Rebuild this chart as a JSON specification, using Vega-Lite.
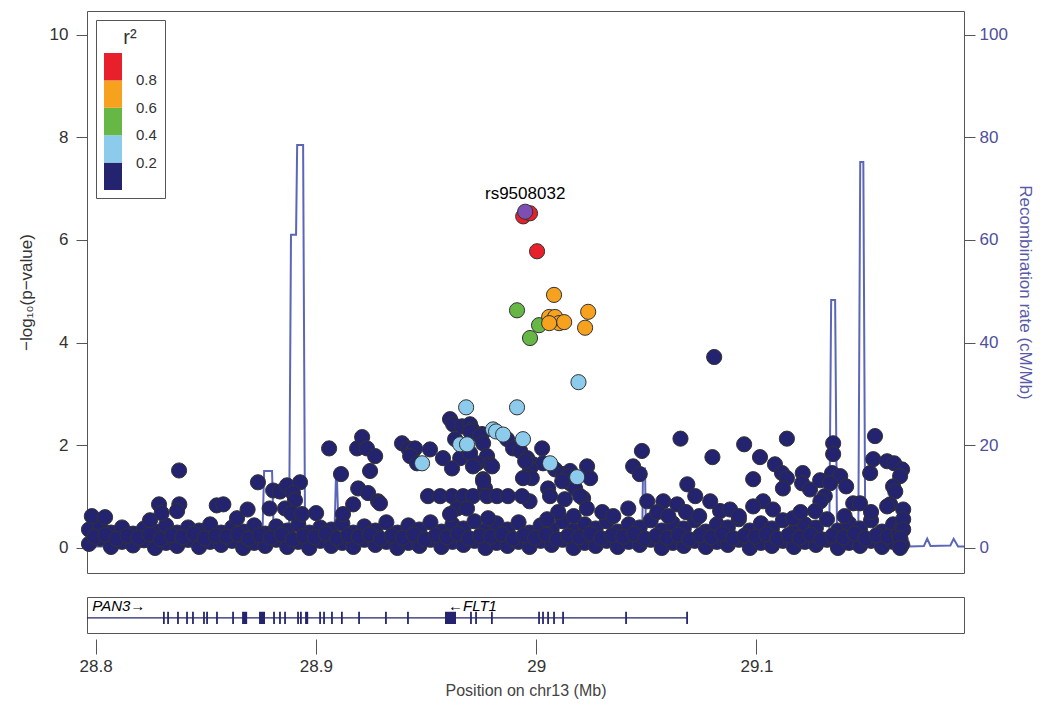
{
 "$schema": "https://vega.github.io/schema/vega-lite/v6.json",
 "background": "white",
 "padding": {"left": 16, "top": 10, "right": 5, "bottom": 5},
 "bounds": "flush",
 "spacing": 24,
 "config": {
  "font": "Liberation Sans",
  "view": {"stroke": "#555", "strokeWidth": 1},
  "axis": {"grid": false, "domain": false, "tickColor": "#555", "labelFontSize": 17, "titleFontSize": 17, "titleFontWeight": "normal", "labelColor": "#333", "titleColor": "#333"}
 },
 "datasets": {
  "navy": [
   {"pos":28.797,"logp":0.08},{"pos":28.797,"logp":0.36},{"pos":28.802,"logp":0.18},{"pos":28.802,"logp":0.42},{"pos":28.807,"logp":0.02},{"pos":28.807,"logp":0.30},{"pos":28.812,"logp":0.12},{"pos":28.812,"logp":0.40},{"pos":28.817,"logp":0.05},{"pos":28.817,"logp":0.28},{"pos":28.822,"logp":0.15},{"pos":28.822,"logp":0.38},{"pos":28.827,"logp":0.0},{"pos":28.827,"logp":0.32},{"pos":28.832,"logp":0.10},{"pos":28.832,"logp":0.44},{"pos":28.837,"logp":0.04},{"pos":28.837,"logp":0.30},{"pos":28.842,"logp":0.16},{"pos":28.842,"logp":0.40},{"pos":28.847,"logp":0.02},{"pos":28.847,"logp":0.34},{"pos":28.852,"logp":0.12},{"pos":28.852,"logp":0.46},{"pos":28.857,"logp":0.06},{"pos":28.857,"logp":0.30},{"pos":28.862,"logp":0.14},{"pos":28.862,"logp":0.40},{"pos":28.867,"logp":0.0},{"pos":28.867,"logp":0.32},{"pos":28.872,"logp":0.10},{"pos":28.872,"logp":0.44},{"pos":28.877,"logp":0.04},{"pos":28.877,"logp":0.28},{"pos":28.882,"logp":0.16},{"pos":28.882,"logp":0.42},{"pos":28.887,"logp":0.02},{"pos":28.887,"logp":0.34},{"pos":28.892,"logp":0.12},{"pos":28.892,"logp":0.46},{"pos":28.897,"logp":0.0},{"pos":28.897,"logp":0.30},{"pos":28.902,"logp":0.14},{"pos":28.902,"logp":0.40},{"pos":28.907,"logp":0.04},{"pos":28.907,"logp":0.36},{"pos":28.912,"logp":0.10},{"pos":28.912,"logp":0.48},{"pos":28.917,"logp":0.02},{"pos":28.917,"logp":0.30},{"pos":28.922,"logp":0.16},{"pos":28.922,"logp":0.42},{"pos":28.927,"logp":0.06},{"pos":28.927,"logp":0.34},{"pos":28.932,"logp":0.12},{"pos":28.932,"logp":0.50},{"pos":28.937,"logp":0.0},{"pos":28.937,"logp":0.30},{"pos":28.942,"logp":0.10},{"pos":28.942,"logp":0.44},{"pos":28.947,"logp":0.04},{"pos":28.947,"logp":0.36},{"pos":28.952,"logp":0.16},{"pos":28.952,"logp":0.50},{"pos":28.957,"logp":0.02},{"pos":28.957,"logp":0.32},{"pos":28.962,"logp":0.12},{"pos":28.962,"logp":0.46},{"pos":28.967,"logp":0.06},{"pos":28.967,"logp":0.38},{"pos":28.972,"logp":0.14},{"pos":28.972,"logp":0.52},{"pos":28.977,"logp":0.0},{"pos":28.977,"logp":0.34},{"pos":28.982,"logp":0.10},{"pos":28.982,"logp":0.48},{"pos":28.987,"logp":0.04},{"pos":28.987,"logp":0.36},{"pos":28.992,"logp":0.12},{"pos":28.992,"logp":0.50},{"pos":28.997,"logp":0.02},{"pos":28.997,"logp":0.30},{"pos":29.002,"logp":0.14},{"pos":29.002,"logp":0.44},{"pos":29.007,"logp":0.06},{"pos":29.007,"logp":0.36},{"pos":29.012,"logp":0.16},{"pos":29.012,"logp":0.52},{"pos":29.017,"logp":0.0},{"pos":29.017,"logp":0.34},{"pos":29.022,"logp":0.10},{"pos":29.022,"logp":0.46},{"pos":29.027,"logp":0.04},{"pos":29.027,"logp":0.38},{"pos":29.032,"logp":0.14},{"pos":29.032,"logp":0.52},{"pos":29.037,"logp":0.02},{"pos":29.037,"logp":0.32},{"pos":29.042,"logp":0.12},{"pos":29.042,"logp":0.46},{"pos":29.047,"logp":0.06},{"pos":29.047,"logp":0.40},{"pos":29.052,"logp":0.16},{"pos":29.052,"logp":0.54},{"pos":29.057,"logp":0.0},{"pos":29.057,"logp":0.34},{"pos":29.062,"logp":0.10},{"pos":29.062,"logp":0.48},{"pos":29.067,"logp":0.04},{"pos":29.067,"logp":0.38},{"pos":29.072,"logp":0.14},{"pos":29.072,"logp":0.54},{"pos":29.077,"logp":0.02},{"pos":29.077,"logp":0.32},{"pos":29.082,"logp":0.12},{"pos":29.082,"logp":0.46},{"pos":29.087,"logp":0.06},{"pos":29.087,"logp":0.40},{"pos":29.092,"logp":0.16},{"pos":29.092,"logp":0.56},{"pos":29.097,"logp":0.0},{"pos":29.097,"logp":0.34},{"pos":29.102,"logp":0.10},{"pos":29.102,"logp":0.48},{"pos":29.107,"logp":0.04},{"pos":29.107,"logp":0.38},{"pos":29.112,"logp":0.14},{"pos":29.112,"logp":0.54},{"pos":29.117,"logp":0.02},{"pos":29.117,"logp":0.32},{"pos":29.122,"logp":0.12},{"pos":29.122,"logp":0.46},{"pos":29.127,"logp":0.06},{"pos":29.127,"logp":0.40},{"pos":29.132,"logp":0.16},{"pos":29.132,"logp":0.56},{"pos":29.137,"logp":0.0},{"pos":29.137,"logp":0.34},{"pos":29.142,"logp":0.10},{"pos":29.142,"logp":0.48},{"pos":29.147,"logp":0.04},{"pos":29.147,"logp":0.38},{"pos":29.152,"logp":0.14},{"pos":29.152,"logp":0.54},{"pos":29.157,"logp":0.02},{"pos":29.157,"logp":0.32},{"pos":29.162,"logp":0.12},{"pos":29.162,"logp":0.46},{"pos":29.166,"logp":0.06},{"pos":29.166,"logp":0.40},
   {"pos":28.7995,"logp":0.22},{"pos":28.8045,"logp":0.26},{"pos":28.8095,"logp":0.18},{"pos":28.8145,"logp":0.24},{"pos":28.8195,"logp":0.20},{"pos":28.8245,"logp":0.27},{"pos":28.8295,"logp":0.17},{"pos":28.8345,"logp":0.25},{"pos":28.8395,"logp":0.21},{"pos":28.8445,"logp":0.28},{"pos":28.8495,"logp":0.19},{"pos":28.8545,"logp":0.24},{"pos":28.8595,"logp":0.22},{"pos":28.8645,"logp":0.27},{"pos":28.8695,"logp":0.18},{"pos":28.8745,"logp":0.25},{"pos":28.8795,"logp":0.20},{"pos":28.8845,"logp":0.26},{"pos":28.8895,"logp":0.17},{"pos":28.8945,"logp":0.24},{"pos":28.8995,"logp":0.21},{"pos":28.9045,"logp":0.28},{"pos":28.9095,"logp":0.19},{"pos":28.9145,"logp":0.25},{"pos":28.9195,"logp":0.22},{"pos":28.9245,"logp":0.27},{"pos":28.9295,"logp":0.18},{"pos":28.9345,"logp":0.24},{"pos":28.9395,"logp":0.20},{"pos":28.9445,"logp":0.26},{"pos":28.9495,"logp":0.17},{"pos":28.9545,"logp":0.25},{"pos":28.9595,"logp":0.21},{"pos":28.9645,"logp":0.28},{"pos":28.9695,"logp":0.19},{"pos":28.9745,"logp":0.24},{"pos":28.9795,"logp":0.22},{"pos":28.9845,"logp":0.27},{"pos":28.9895,"logp":0.18},{"pos":28.9945,"logp":0.25},{"pos":28.9995,"logp":0.20},{"pos":29.0045,"logp":0.26},{"pos":29.0095,"logp":0.17},{"pos":29.0145,"logp":0.24},{"pos":29.0195,"logp":0.21},{"pos":29.0245,"logp":0.28},{"pos":29.0295,"logp":0.19},{"pos":29.0345,"logp":0.25},{"pos":29.0395,"logp":0.22},{"pos":29.0445,"logp":0.27},{"pos":29.0495,"logp":0.18},{"pos":29.0545,"logp":0.24},{"pos":29.0595,"logp":0.20},{"pos":29.0645,"logp":0.26},{"pos":29.0695,"logp":0.17},{"pos":29.0745,"logp":0.25},{"pos":29.0795,"logp":0.21},{"pos":29.0845,"logp":0.28},{"pos":29.0895,"logp":0.19},{"pos":29.0945,"logp":0.24},{"pos":29.0995,"logp":0.22},{"pos":29.1045,"logp":0.27},{"pos":29.1095,"logp":0.18},{"pos":29.1145,"logp":0.25},{"pos":29.1195,"logp":0.20},{"pos":29.1245,"logp":0.26},{"pos":29.1295,"logp":0.17},{"pos":29.1345,"logp":0.24},{"pos":29.1395,"logp":0.21},{"pos":29.1445,"logp":0.28},{"pos":29.1495,"logp":0.19},{"pos":29.1545,"logp":0.25},{"pos":29.1595,"logp":0.22},{"pos":29.1645,"logp":0.27},
   {"pos":28.7983,"logp":0.62},{"pos":28.8043,"logp":0.60},{"pos":28.8247,"logp":0.54},{"pos":28.8288,"logp":0.85},{"pos":28.830,"logp":0.68},{"pos":28.8379,"logp":1.51},{"pos":28.838,"logp":0.85},{"pos":28.837,"logp":0.72},{"pos":28.855,"logp":0.83},{"pos":28.858,"logp":0.85},{"pos":28.8642,"logp":0.58},{"pos":28.869,"logp":0.75},{"pos":28.8737,"logp":1.28},{"pos":28.879,"logp":0.77},{"pos":28.8806,"logp":1.12},{"pos":28.8837,"logp":1.10},{"pos":28.8869,"logp":1.22},{"pos":28.8928,"logp":1.28},{"pos":28.8896,"logp":1.07},{"pos":28.8905,"logp":0.93},{"pos":28.886,"logp":0.77},{"pos":28.8888,"logp":0.68},{"pos":28.8937,"logp":0.66},
   {"pos":28.9001,"logp":0.68},{"pos":28.906,"logp":1.94},{"pos":28.9114,"logp":1.44},{"pos":28.9169,"logp":0.85},{"pos":28.9123,"logp":0.66},{"pos":28.9187,"logp":1.94},{"pos":28.921,"logp":2.16},{"pos":28.9232,"logp":1.94},{"pos":28.9269,"logp":1.79},{"pos":28.9246,"logp":1.50},{"pos":28.9192,"logp":1.16},{"pos":28.9237,"logp":1.07},{"pos":28.9282,"logp":0.91},{"pos":28.9291,"logp":0.87},
   {"pos":28.9391,"logp":2.04},{"pos":28.9419,"logp":1.94},{"pos":28.9441,"logp":1.89},{"pos":28.945,"logp":1.94},{"pos":28.9428,"logp":1.79},{"pos":28.9459,"logp":1.65},{"pos":28.9518,"logp":1.92},{"pos":28.9577,"logp":1.75},
   {"pos":28.9609,"logp":2.51},{"pos":28.9623,"logp":2.41},{"pos":28.9664,"logp":2.37},{"pos":28.970,"logp":2.41},{"pos":28.9709,"logp":2.31},{"pos":28.9754,"logp":2.22},{"pos":28.9632,"logp":2.12},{"pos":28.9700,"logp":2.27},{"pos":28.9745,"logp":2.18},{"pos":28.9759,"logp":2.04},{"pos":28.9777,"logp":1.79},{"pos":28.9732,"logp":1.65},{"pos":28.9655,"logp":1.75},{"pos":28.970,"logp":1.85},{"pos":28.9618,"logp":1.55},{"pos":28.9713,"logp":1.59},{"pos":28.9791,"logp":1.63},{"pos":28.980,"logp":1.59},{"pos":28.9759,"logp":1.34},{"pos":28.9768,"logp":1.16},{"pos":28.9759,"logp":1.30},
   {"pos":28.9868,"logp":2.12},{"pos":28.9895,"logp":1.94},{"pos":28.9927,"logp":1.89},{"pos":28.9959,"logp":1.75},{"pos":28.9986,"logp":1.63},{"pos":29.0027,"logp":1.94},{"pos":29.0031,"logp":1.65},{"pos":29.0086,"logp":1.53},{"pos":29.0122,"logp":1.44},{"pos":29.0154,"logp":1.50},{"pos":29.0231,"logp":1.59},{"pos":29.0245,"logp":1.36},{"pos":29.0154,"logp":1.26},{"pos":29.0177,"logp":1.16},{"pos":29.0213,"logp":0.97},{"pos":29.0054,"logp":1.16},{"pos":29.0063,"logp":1.01},{"pos":29.0145,"logp":1.40},{"pos":29.0118,"logp":1.30},{"pos":28.9972,"logp":1.55},{"pos":28.995,"logp":1.69},{"pos":28.998,"logp":1.36},{"pos":28.994,"logp":1.36},{"pos":29.013,"logp":0.95},{"pos":29.020,"logp":1.01},{"pos":29.023,"logp":0.77},{"pos":28.997,"logp":0.91},{"pos":28.9936,"logp":1.01},
   {"pos":28.9509,"logp":1.01},{"pos":28.9564,"logp":1.01},{"pos":28.9618,"logp":1.01},{"pos":28.9668,"logp":1.01},{"pos":28.9713,"logp":1.01},{"pos":28.9777,"logp":1.01},{"pos":28.9822,"logp":1.01},{"pos":28.9872,"logp":1.01},{"pos":28.9641,"logp":0.77},{"pos":28.9686,"logp":0.77},{"pos":28.9609,"logp":0.66},{"pos":28.9782,"logp":0.58},
   {"pos":29.048,"logp":1.89},{"pos":29.044,"logp":1.59},{"pos":29.047,"logp":1.44},{"pos":29.0655,"logp":2.13},{"pos":29.080,"logp":1.77},{"pos":29.0686,"logp":1.24},{"pos":29.0944,"logp":2.02},{"pos":29.0418,"logp":0.77},{"pos":29.0504,"logp":0.91},{"pos":29.0577,"logp":0.91},{"pos":29.064,"logp":0.85},{"pos":29.0722,"logp":1.01},{"pos":29.079,"logp":0.91},{"pos":29.0835,"logp":0.72},{"pos":29.0808,"logp":3.72},
   {"pos":29.1016,"logp":1.77},{"pos":29.0985,"logp":1.34},{"pos":29.1138,"logp":2.13},{"pos":29.1084,"logp":1.63},{"pos":29.1116,"logp":1.46},{"pos":29.1138,"logp":1.36},{"pos":29.112,"logp":1.16},{"pos":29.121,"logp":1.46},{"pos":29.1207,"logp":1.26},{"pos":29.1243,"logp":1.14},{"pos":29.1289,"logp":1.32},{"pos":29.1348,"logp":2.04},{"pos":29.1348,"logp":1.83},{"pos":29.1343,"logp":1.46},{"pos":29.138,"logp":1.40},{"pos":29.1407,"logp":1.20},{"pos":29.1334,"logp":1.26},{"pos":29.131,"logp":1.01},{"pos":29.129,"logp":0.91},{"pos":29.1538,"logp":2.18},{"pos":29.153,"logp":1.73},{"pos":29.1516,"logp":1.46},{"pos":29.1593,"logp":1.69},{"pos":29.1625,"logp":1.65},{"pos":29.1661,"logp":1.53},{"pos":29.1652,"logp":1.40},{"pos":29.162,"logp":1.20},{"pos":29.163,"logp":1.10},{"pos":29.1607,"logp":0.85},{"pos":29.1666,"logp":0.75},{"pos":29.1666,"logp":0.56},{"pos":29.1666,"logp":0.36},{"pos":29.1652,"logp":0.19},{"pos":29.1652,"logp":0.0},{"pos":29.103,"logp":0.91},{"pos":29.0985,"logp":0.81},{"pos":29.1075,"logp":0.75},{"pos":29.1166,"logp":0.58},{"pos":29.1439,"logp":0.87},{"pos":29.147,"logp":0.87},{"pos":29.1593,"logp":0.81},{"pos":29.1266,"logp":0.72},
   {"pos":29.030,"logp":0.70},{"pos":29.035,"logp":0.62},{"pos":29.055,"logp":0.70},{"pos":29.060,"logp":0.62},{"pos":29.068,"logp":0.70},{"pos":29.074,"logp":0.62},{"pos":29.088,"logp":0.75},{"pos":29.092,"logp":0.62},{"pos":29.120,"logp":0.70},{"pos":29.140,"logp":0.62},{"pos":29.152,"logp":0.70},{"pos":29.010,"logp":0.70},{"pos":29.017,"logp":0.62},{"pos":29.005,"logp":0.56}
  ],
  "ld": [
   {"pos":29.0192,"logp":3.23,"r2":0.3},{"pos":28.9682,"logp":2.74,"r2":0.3},{"pos":28.9913,"logp":2.74,"r2":0.3},{"pos":28.9804,"logp":2.31,"r2":0.3},{"pos":28.9818,"logp":2.27,"r2":0.3},{"pos":28.985,"logp":2.21,"r2":0.3},{"pos":28.994,"logp":2.12,"r2":0.3},{"pos":28.9655,"logp":2.02,"r2":0.3},{"pos":28.9686,"logp":2.02,"r2":0.3},{"pos":28.9482,"logp":1.65,"r2":0.3},{"pos":29.0063,"logp":1.65,"r2":0.3},{"pos":29.0186,"logp":1.38,"r2":0.3},
   {"pos":28.9913,"logp":4.63,"r2":0.5},{"pos":29.0013,"logp":4.34,"r2":0.5},{"pos":28.9972,"logp":4.09,"r2":0.5},
   {"pos":29.0081,"logp":4.93,"r2":0.7},{"pos":29.0059,"logp":4.50,"r2":0.7},{"pos":29.0086,"logp":4.50,"r2":0.7},{"pos":29.0104,"logp":4.38,"r2":0.7},{"pos":29.0127,"logp":4.40,"r2":0.7},{"pos":29.0059,"logp":4.38,"r2":0.7},{"pos":29.0236,"logp":4.60,"r2":0.7},{"pos":29.0222,"logp":4.29,"r2":0.7},
   {"pos":29.0004,"logp":5.78,"r2":0.9},{"pos":28.9941,"logp":6.46,"r2":0.9},{"pos":28.9972,"logp":6.52,"r2":0.9}
  ],
  "lead": [{"pos":28.995,"logp":6.55,"snp":"rs9508032"}],
  "recomb": [
   {"pos":28.7961,"rate":0.3},{"pos":28.8756,"rate":0.3},{"pos":28.8765,"rate":15},{"pos":28.8801,"rate":15},{"pos":28.881,"rate":0.4},{"pos":28.8878,"rate":0.4},{"pos":28.8887,"rate":61},{"pos":28.891,"rate":61},{"pos":28.8915,"rate":78.5},{"pos":28.8942,"rate":78.5},{"pos":28.8951,"rate":0.4},{"pos":28.9083,"rate":0.4},{"pos":28.9092,"rate":15.5},{"pos":28.9096,"rate":13},{"pos":28.9105,"rate":0.5},{"pos":28.9931,"rate":0.6},{"pos":28.994,"rate":5.2},{"pos":28.9945,"rate":1.5},{"pos":28.9954,"rate":0.7},{"pos":29.0481,"rate":0.7},{"pos":29.0485,"rate":15.5},{"pos":29.0494,"rate":15.5},{"pos":29.0499,"rate":0.6},{"pos":29.133,"rate":0.5},{"pos":29.1339,"rate":48.3},{"pos":29.1357,"rate":48.3},{"pos":29.1366,"rate":0.5},{"pos":29.1462,"rate":0.5},{"pos":29.1471,"rate":75.2},{"pos":29.1485,"rate":75.2},{"pos":29.1494,"rate":0.5},{"pos":29.1665,"rate":0.8},{"pos":29.168,"rate":2.7},{"pos":29.1697,"rate":0.3},{"pos":29.176,"rate":0.4},{"pos":29.1775,"rate":1.8},{"pos":29.179,"rate":0.4},{"pos":29.188,"rate":0.5},{"pos":29.1895,"rate":1.8},{"pos":29.1915,"rate":0.3},{"pos":29.1942,"rate":0.3}
  ],
  "exons": [
   {"s":28.8306,"e":28.8314},{"s":28.8325,"e":28.8333},{"s":28.8370,"e":28.8378},{"s":28.8411,"e":28.8419},{"s":28.8438,"e":28.8446},{"s":28.8488,"e":28.8496},{"s":28.8502,"e":28.8510},{"s":28.8547,"e":28.8555},{"s":28.8620,"e":28.8628},{"s":28.8665,"e":28.8688},{"s":28.8742,"e":28.8769},{"s":28.8806,"e":28.8814},{"s":28.8833,"e":28.8841},{"s":28.8856,"e":28.8864},{"s":28.8915,"e":28.8923},{"s":28.8928,"e":28.8936},{"s":28.8951,"e":28.8965},{"s":28.9015,"e":28.9023},{"s":28.9033,"e":28.9041},{"s":28.9069,"e":28.9077},{"s":28.9114,"e":28.9122},{"s":28.9192,"e":28.9200},{"s":28.9314,"e":28.9322},{"s":28.9414,"e":28.9422},{"s":28.9586,"e":28.9636},{"s":28.9700,"e":28.9708},{"s":28.9723,"e":28.9731},{"s":28.9795,"e":28.9803},{"s":29.0009,"e":29.0017},{"s":29.0027,"e":29.0035},{"s":29.0050,"e":29.0058},{"s":29.0077,"e":29.0085},{"s":29.0118,"e":29.0126},{"s":29.0404,"e":29.0412},{"s":29.0681,"e":29.0689}
  ],
  "genes": [{"pos":28.7985,"label":"PAN3→"},{"pos":28.9600,"label":"←FLT1"}]
 },
 "vconcat": [
  {
   "width": 877,
   "height": 562,
   "layer": [
    {
     "data": {"name": "recomb"},
     "mark": {"type": "line", "color": "#5b66b8", "strokeWidth": 2},
     "encoding": {
      "x": {"field": "pos", "type": "quantitative", "scale": {"domain": [28.7961, 29.1942], "nice": false, "zero": false}, "axis": null},
      "y": {"field": "rate", "type": "quantitative", "scale": {"domain": [-4.87, 104.6], "nice": false, "zero": false},
            "axis": {"orient": "right", "values": [0, 20, 40, 60, 80, 100], "title": "Recombination rate (cM/Mb)", "labelColor": "#4f4f9a", "titleColor": "#5a5aa8", "tickSize": 11, "labelPadding": 4, "titlePadding": 8}}
     }
    },
    {
     "layer": [
      {
       "data": {"name": "navy"},
       "mark": {"type": "point", "shape": "circle", "filled": true, "size": 230, "color": "#23236f", "stroke": "#333333", "strokeWidth": 1, "opacity": 1},
       "encoding": {
        "x": {"field": "pos", "type": "quantitative", "scale": {"domain": [28.7961, 29.1942], "nice": false, "zero": false}, "axis": null},
        "y": {"field": "logp", "type": "quantitative", "scale": {"domain": [-0.487, 10.46], "nice": false, "zero": false},
              "axis": {"orient": "left", "values": [0, 2, 4, 6, 8, 10], "title": "−log₁₀(p−value)", "tickSize": 11, "labelPadding": 8, "titlePadding": 14}}
       }
      },
      {
       "data": {"name": "ld"},
       "mark": {"type": "point", "shape": "circle", "filled": true, "size": 230, "stroke": "#333333", "strokeWidth": 1, "opacity": 1},
       "encoding": {
        "x": {"field": "pos", "type": "quantitative"},
        "y": {"field": "logp", "type": "quantitative"},
        "color": {"field": "r2", "type": "quantitative",
                  "scale": {"type": "threshold", "domain": [0.2, 0.4, 0.6, 0.8], "range": ["#23236f", "#8ccbeb", "#66b746", "#f6a21e", "#e8202b"]},
                  "legend": {"type": "gradient", "direction": "vertical", "orient": "top-left", "offset": 9, "title": "r²", "titleFontSize": 20, "titleFontWeight": "normal", "titleAnchor": "middle", "titleColor": "#333", "gradientLength": 137, "gradientThickness": 18, "gradientStrokeWidth": 0, "labelFontSize": 15, "labelOffset": 14, "labelColor": "#333", "labelOverlap": false, "strokeColor": "#555", "fillColor": "white", "padding": 8}}
       }
      },
      {
       "data": {"name": "lead"},
       "mark": {"type": "point", "shape": "circle", "filled": true, "size": 230, "color": "#7e4fb3", "stroke": "#333333", "strokeWidth": 1, "opacity": 1},
       "encoding": {
        "x": {"field": "pos", "type": "quantitative"},
        "y": {"field": "logp", "type": "quantitative"}
       }
      },
      {
       "data": {"name": "lead"},
       "mark": {"type": "text", "fontSize": 17, "color": "black", "dy": -18, "baseline": "middle"},
       "encoding": {
        "x": {"field": "pos", "type": "quantitative"},
        "y": {"field": "logp", "type": "quantitative"},
        "text": {"field": "snp"}
       }
      }
     ]
    }
   ],
   "resolve": {"scale": {"y": "independent"}}
  },
  {
   "width": 877,
   "height": 36,
   "layer": [
    {
     "data": {"values": [{"s": 28.7961, "e": 29.0685}]},
     "mark": {"type": "rule", "color": "#23236f", "strokeWidth": 1.2},
     "encoding": {
      "x": {"field": "s", "type": "quantitative", "scale": {"domain": [28.7961, 29.1942], "nice": false, "zero": false},
            "axis": {"values": [28.8, 28.9, 29, 29.1], "format": "~g", "title": "Position on chr13 (Mb)", "tickSize": 15, "offset": 6, "labelPadding": 4, "titleFontSize": 16, "titlePadding": 8, "labelColor": "#333", "titleColor": "#444"}},
      "x2": {"field": "e"},
      "y": {"datum": 0.42, "type": "quantitative", "scale": {"domain": [0, 1], "nice": false, "zero": false}, "axis": null}
     }
    },
    {
     "data": {"name": "exons"},
     "mark": {"type": "rect", "color": "#23236f"},
     "encoding": {
      "x": {"field": "s", "type": "quantitative"},
      "x2": {"field": "e"},
      "y": {"datum": 0.25, "type": "quantitative"},
      "y2": {"datum": 0.59}
     }
    },
    {
     "data": {"name": "genes"},
     "mark": {"type": "text", "fontSize": 15, "fontStyle": "italic", "color": "black", "align": "left", "baseline": "middle"},
     "encoding": {
      "x": {"field": "pos", "type": "quantitative"},
      "y": {"datum": 0.74, "type": "quantitative"},
      "text": {"field": "label"}
     }
    }
   ]
  }
 ]
}
